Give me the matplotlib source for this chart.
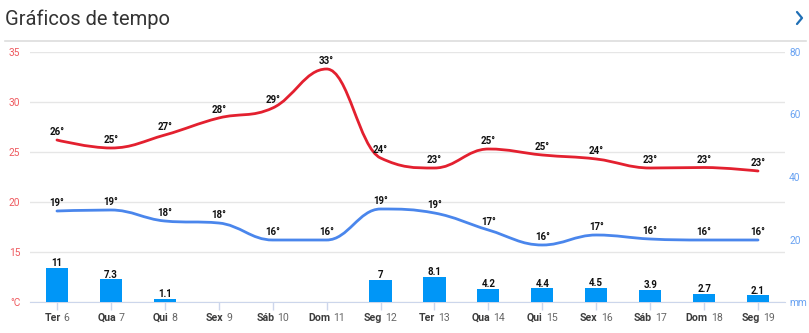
import numpy as np
import matplotlib
matplotlib.use("Agg")
import matplotlib.pyplot as plt
from matplotlib.path import Path
from matplotlib.patches import PathPatch
from matplotlib.lines import Line2D
import matplotlib.transforms as mtrans

plt.rcParams['font.family'] = ['Roboto', 'DejaVu Sans']

# ---- data ----
day_names = ["Ter", "Qua", "Qui", "Sex", "Sáb", "Dom", "Seg", "Ter", "Qua", "Qui", "Sex", "Sáb", "Dom", "Seg"]
day_nums = ["6", "7", "8", "9", "10", "11", "12", "13", "14", "15", "16", "17", "18", "19"]
temp_max = [26.2, 25.4, 26.7, 28.4, 29.4, 33.3, 24.4, 23.4, 25.3, 24.7, 24.3, 23.4, 23.45, 23.1]
temp_min = [19.1, 19.2, 18.1, 17.9, 16.2, 16.2, 19.3, 18.9, 17.2, 15.7, 16.7, 16.3, 16.2, 16.2]
rain_mm = [11, 7.3, 1.1, 0, 0, 0, 7, 8.1, 4.2, 4.4, 4.5, 3.9, 2.7, 2.1]
rain_labels = ["11", "7.3", "1.1", "", "", "", "7", "8.1", "4.2", "4.4", "4.5", "3.9", "2.7", "2.1"]
left_ticks = [10, 15, 20, 25, 30, 35]
left_tick_labels = ["°C", "15", "20", "25", "30", "35"]
right_ticks = [0, 20, 40, 60, 80]
right_tick_labels = ["mm", "20", "40", "60", "80"]

W, H = 809, 333
fig = plt.figure(figsize=(W / 100, H / 100), dpi=100)

# header
fig.text(5 / W, 1 - 19 / H, "Gráficos de tempo", fontsize=14.5, color="#333333",
         va="center", ha="left")
fig.add_artist(Line2D([5 / W, 806 / W], [1 - 41 / H, 1 - 41 / H], color="#dddddd", lw=1.2))
fig.add_artist(Line2D([797 / W, 802 / W, 797 / W], [1 - 12 / H, 1 - 18 / H, 1 - 24 / H],
                      color="#1f6fb5", lw=1.6, solid_capstyle="round", solid_joinstyle="round"))

left, right_px, top_px, bot_px = 30, 785, 52, 302
ax = fig.add_axes([left / W, 1 - bot_px / H, (right_px - left) / W, (bot_px - top_px) / H])
ax2 = ax.twinx()

x = np.arange(len(day_names))
ax.set_xlim(-0.5, len(x) - 0.5)
ax.set_ylim(10, 35)
ax2.set_ylim(0, 80)


def spline_path(xs, ys, smoothing=1.5):
    xs = list(map(float, xs)); ys = list(map(float, ys))
    n = len(xs)
    lc = [None] * n
    rc = [None] * n
    for i in range(1, n - 1):
        px, py = xs[i], ys[i]
        lx, ly = xs[i - 1], ys[i - 1]
        nx, ny = xs[i + 1], ys[i + 1]
        d = smoothing + 1
        lcx = (smoothing * px + lx) / d
        lcy = (smoothing * py + ly) / d
        rcx = (smoothing * px + nx) / d
        rcy = (smoothing * py + ny) / d
        corr = 0
        if rcx != lcx:
            corr = (rcy - lcy) * (rcx - px) / (rcx - lcx) + py - rcy
        lcy += corr
        rcy += corr
        if lcy > ly and lcy > py:
            lcy = max(ly, py); rcy = 2 * py - lcy
        elif lcy < ly and lcy < py:
            lcy = min(ly, py); rcy = 2 * py - lcy
        if rcy > ny and rcy > py:
            rcy = max(ny, py); lcy = 2 * py - rcy
        elif rcy < ny and rcy < py:
            rcy = min(ny, py); lcy = 2 * py - rcy
        lc[i] = (lcx, lcy)
        rc[i] = (rcx, rcy)
    verts = [(xs[0], ys[0])]
    codes = [Path.MOVETO]
    for i in range(1, n):
        c1 = rc[i - 1] if rc[i - 1] is not None else (xs[i - 1], ys[i - 1])
        c2 = lc[i] if lc[i] is not None else (xs[i], ys[i])
        verts += [c1, c2, (xs[i], ys[i])]
        codes += [Path.CURVE4] * 3
    return Path(verts, codes)


red = "#e3202f"
blue = "#4a86ec"
ax.add_patch(PathPatch(spline_path(x, temp_max), facecolor="none", edgecolor=red, lw=2.0,
                       capstyle="round", zorder=4))
ax.add_patch(PathPatch(spline_path(x, temp_min), facecolor="none", edgecolor=blue, lw=2.0,
                       capstyle="round", zorder=4))

for xi, v in zip(x, temp_max):
    ax.annotate(f"{int(round(v))}°", (xi, v), xytext=(0, 3.5), textcoords="offset points",
                ha="center", va="baseline", fontsize=7, fontweight="bold", color="#111111", zorder=6)
for xi, v in zip(x, temp_min):
    ax.annotate(f"{int(round(v))}°", (xi, v), xytext=(0, 3.5), textcoords="offset points",
                ha="center", va="baseline", fontsize=7, fontweight="bold", color="#111111", zorder=6)

bars = ax2.bar(x, rain_mm, width=0.41, color="#0096f7", zorder=3)
for xi, v, lab in zip(x, rain_mm, rain_labels):
    if lab:
        ax2.annotate(lab, (xi, v), xytext=(0, 1.2), textcoords="offset points",
                     ha="center", va="baseline", fontsize=7, fontweight="bold", color="#111111")

# axes styling
for a in (ax, ax2):
    for s in ("top", "left", "right"):
        a.spines[s].set_visible(False)
ax.spines["bottom"].set_color("#ccd6eb")
ax2.spines["bottom"].set_visible(False)

ax.set_yticks(left_ticks, left_tick_labels)
ax.tick_params(axis="y", length=0, pad=7, labelsize=7.3, labelcolor="#ef5a5f")
ax.grid(axis="y", color="#e6e6e6", lw=1)
ax.set_axisbelow(True)
ax2.set_yticks(right_ticks, right_tick_labels)
ax2.tick_params(axis="y", length=0, pad=3, labelsize=7.3, labelcolor="#6aa3f2")

ax.set_xticks(x, [""] * len(x))
ax.tick_params(axis="x", length=5.8, width=1, color="#ccd6eb")
ax2.tick_params(axis="x", length=0)

# two-tone x tick labels
base = ax.get_xaxis_transform()
name_texts, num_texts = [], []
for xi, nm, nu in zip(x, day_names, day_nums):
    t1 = ax.text(xi, 0, nm, transform=base, ha="left", va="center", fontsize=7.6,
                 fontweight="bold", color="#3d3d3d", clip_on=False)
    t2 = ax.text(xi, 0, nu, transform=base, ha="left", va="center", fontsize=7.6,
                 color="#666666", clip_on=False)
    name_texts.append(t1); num_texts.append(t2)
fig.canvas.draw()
r = fig.canvas.get_renderer()
gap = 3.0
for t1, t2 in zip(name_texts, num_texts):
    w1 = t1.get_window_extent(r).width
    w2 = t2.get_window_extent(r).width
    tot = w1 + gap + w2
    t1.set_transform(mtrans.offset_copy(base, fig=fig, x=-tot / 2, y=-16, units="dots"))
    t2.set_transform(mtrans.offset_copy(base, fig=fig, x=-tot / 2 + w1 + gap, y=-16, units="dots"))

fig.savefig("out.png", dpi=100)
